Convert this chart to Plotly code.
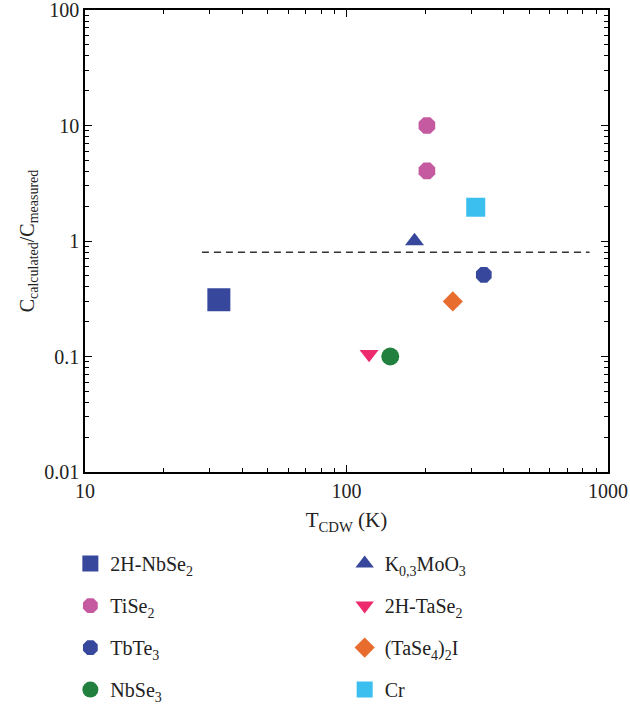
import plotly.graph_objects as go

# ---- data ----
materials = ["2H-NbSe<sub>2</sub>", "TiSe<sub>2</sub>", "TbTe<sub>3</sub>", "NbSe<sub>3</sub>",
             "K<sub>0,3</sub>MoO<sub>3</sub>", "2H-TaSe<sub>2</sub>", "(TaSe<sub>4</sub>)<sub>2</sub>I", "Cr"]
t_cdw = [[32.5], [203, 203], [335], [147], [182], [122], [255], [312]]
c_ratio = [[0.31], [10.0, 4.05], [0.51], [0.10], [1.0], [0.105], [0.30], [1.96]]
symbols = ["square", "octagon", "octagon", "circle", "triangle-up", "triangle-down", "diamond", "square"]
colors = ["#36479c", "#c65aa1", "#36479c", "#22803f", "#36479c", "#ee2a6f", "#e86c2e", "#3bbfee"]
sizes = [23, 18, 17, 18, 16.5, 16.5, 15.5, 19]
legend_ids = ["legend", "legend", "legend", "legend", "legend2", "legend2", "legend2", "legend2"]

ref_x = [28, 850]
ref_y = [0.8, 0.8]

x_tickvals = [10, 100, 1000]
x_ticktext = ["10", "100", "1000"]
y_tickvals = [0.01, 0.1, 1, 10, 100]
y_ticktext = ["0.01", "0.1", "1", "10", "100"]

FONT = "Liberation Serif"

fig = go.Figure()
fig.add_trace(go.Scatter(x=ref_x, y=ref_y, mode="lines", showlegend=False,
                         line=dict(color="#333333", width=1.5, dash="7px,5px")))
for i, name in enumerate(materials):
    fig.add_trace(go.Scatter(
        x=t_cdw[i], y=c_ratio[i], mode="markers", name=name,
        legendgroup=f"g{i}", legend=legend_ids[i],
        marker=dict(symbol=symbols[i], color=colors[i], size=sizes[i], line=dict(width=0)),
    ))

axis_common = dict(
    type="log", showgrid=False, zeroline=False, automargin=False,
    showline=True, linecolor="black", linewidth=1.6, mirror="ticks",
    ticks="inside", ticklen=7, tickwidth=1.2, tickcolor="black",
    minor=dict(ticks="inside", ticklen=4, tickwidth=1, tickcolor="black", dtick="D1"),
    tickfont=dict(family=FONT, size=20, color="#222"),
    ticklabeloverflow="allow",
)

fig.update_layout(
    width=630, height=706,
    margin=dict(l=85, r=22, t=10, b=234, autoexpand=False),
    paper_bgcolor="white", plot_bgcolor="white",
    font=dict(family=FONT, size=20, color="#222"),
    xaxis=dict(axis_common, range=[1, 3], tickvals=x_tickvals, ticktext=x_ticktext,
               title=dict(text="T<sub>CDW</sub> (K)", font=dict(family=FONT, size=21), standoff=12)),
    yaxis=dict(axis_common, range=[-2, 2], tickvals=y_tickvals, ticktext=y_ticktext,
               title=dict(text="C<sub>calculated</sub>/C<sub>measured</sub>", font=dict(family=FONT, size=20), standoff=4)),
    legend=dict(x=-0.028, y=-0.156, xanchor="left", yanchor="top", tracegroupgap=13,
                font=dict(family=FONT, size=20, color="#222"), bgcolor="rgba(0,0,0,0)"),
    legend2=dict(x=0.4965, y=-0.156, xanchor="left", yanchor="top", tracegroupgap=13,
                 font=dict(family=FONT, size=20, color="#222"), bgcolor="rgba(0,0,0,0)"),
)

fig.write_html("out.html", config={"displayModeBar": False},
               post_script="document.body.style.margin='0';")
